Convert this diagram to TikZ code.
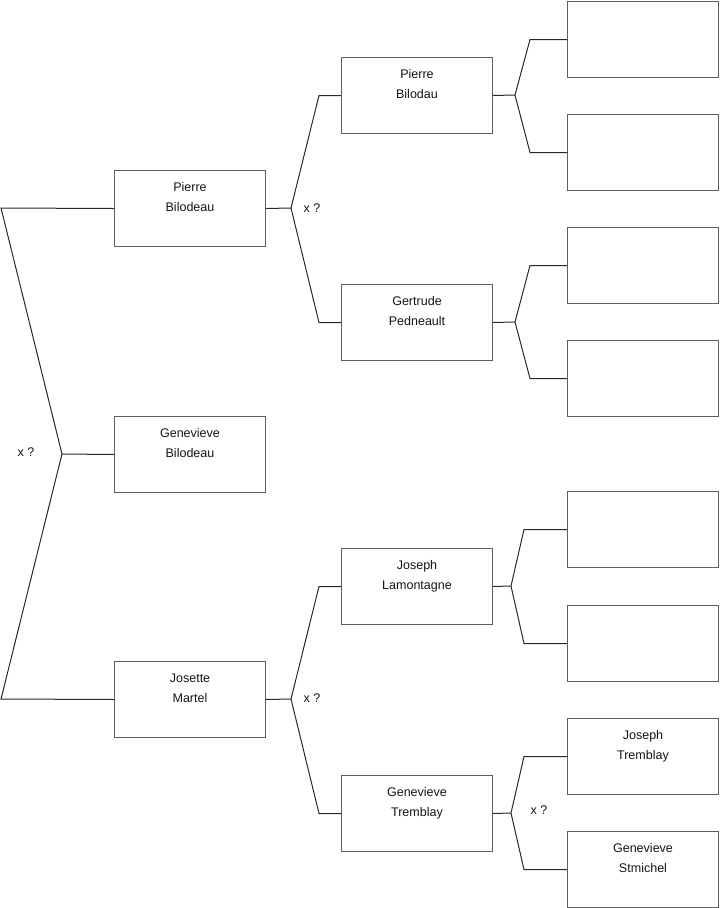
\documentclass[tikz,border=0pt]{standalone}
\usepackage{fontspec}
\setmainfont{Liberation Sans}
\usetikzlibrary{calc}
\definecolor{boxc}{RGB}{95,95,95}
\definecolor{linec}{RGB}{40,40,40}
\definecolor{txtc}{RGB}{20,20,20}
\begin{document}
\begin{tikzpicture}[x=0.75pt,y=-0.75pt,
  person/.style={draw=boxc, line width=0.75pt, minimum width=113.25pt, minimum height=57pt,
    inner sep=0pt, align=center, font=\fontsize{9.4}{14.6}\selectfont, text=txtc, anchor=north west},
  link/.style={draw=linec, line width=0.75pt, line join=miter},
  note/.style={font=\fontsize{9.4}{11}\selectfont, text=txtc, inner sep=0pt}]
\useasboundingbox (0,0) rectangle (719,908);
% generation 1
\node[person] (g1a) at (114,170) {Pierre\strut\\Bilodeau\strut\\\strut\vspace*{1.5pt}};
\node[person] (g1b) at (114,416) {Genevieve\strut\\Bilodeau\strut\\\strut\vspace*{1.5pt}};
\node[person] (g1c) at (114,661) {Josette\strut\\Martel\strut\\\strut\vspace*{1.5pt}};
% generation 2
\node[person] (g2a) at (341,57) {Pierre\strut\\Bilodau\strut\\\strut\vspace*{1.5pt}};
\node[person] (g2b) at (341,284) {Gertrude\strut\\Pedneault\strut\\\strut\vspace*{1.5pt}};
\node[person] (g2c) at (341,548) {Joseph\strut\\Lamontagne\strut\\\strut\vspace*{1.5pt}};
\node[person] (g2d) at (341,775) {Genevieve\strut\\Tremblay\strut\\\strut\vspace*{1.5pt}};
% generation 3
\node[person] (g3a) at (567,1) {};
\node[person] (g3b) at (567,114) {};
\node[person] (g3c) at (567,227) {};
\node[person] (g3d) at (567,340) {};
\node[person] (g3e) at (567,491) {};
\node[person] (g3f) at (567,605) {};
\node[person] (g3g) at (567,718) {Joseph\strut\\Tremblay\strut\\\strut\vspace*{1.5pt}};
\node[person] (g3h) at (567,831) {Genevieve\strut\\Stmichel\strut\\\strut\vspace*{1.5pt}};
% left bracket
\coordinate (tl) at (1,208);
\coordinate (bl) at (1,699);
\coordinate (v0) at (62,454);
\draw[link] (g1a.west) -- (tl) -- (v0) -- (bl) -- (g1c.west);
\draw[link] (v0) -- (g1b.west);
\node[note] (x0) at (26,452) {x ?};
% Pierre Bilodeau bracket
\coordinate (v1) at (291,208);
\draw[link] (g1a.east) -- (v1);
\draw[link] (g2a.west) -- ++(-22,0) -- (v1) -- ($(g2b.west)+(-22,0)$) -- (g2b.west);
\node[note] (x1) at (312,208) {x ?};
% Josette Martel bracket
\coordinate (v2) at (291,699);
\draw[link] (g1c.east) -- (v2);
\draw[link] (g2c.west) -- ++(-22,0) -- (v2) -- ($(g2d.west)+(-22,0)$) -- (g2d.west);
\node[note] (x2) at (312,698) {x ?};
% Pierre Bilodau bracket
\coordinate (v3) at (515,95);
\draw[link] (g2a.east) -- (v3);
\draw[link] (g3a.west) -- ++(-37,0) -- (v3) -- ($(g3b.west)+(-37,0)$) -- (g3b.west);
% Gertrude Pedneault bracket
\coordinate (v4) at (515,322);
\draw[link] (g2b.east) -- (v4);
\draw[link] (g3c.west) -- ++(-37,0) -- (v4) -- ($(g3d.west)+(-37,0)$) -- (g3d.west);
% Joseph Lamontagne bracket
\coordinate (v5) at (511,586);
\draw[link] (g2c.east) -- (v5);
\draw[link] (g3e.west) -- ++(-43,0) -- (v5) -- ($(g3f.west)+(-43,0)$) -- (g3f.west);
% Genevieve Tremblay bracket
\coordinate (v6) at (511,813);
\draw[link] (g2d.east) -- (v6);
\draw[link] (g3g.west) -- ++(-43,0) -- (v6) -- ($(g3h.west)+(-43,0)$) -- (g3h.west);
\node[note] (x3) at (539,810) {x ?};
\end{tikzpicture}
\end{document}
